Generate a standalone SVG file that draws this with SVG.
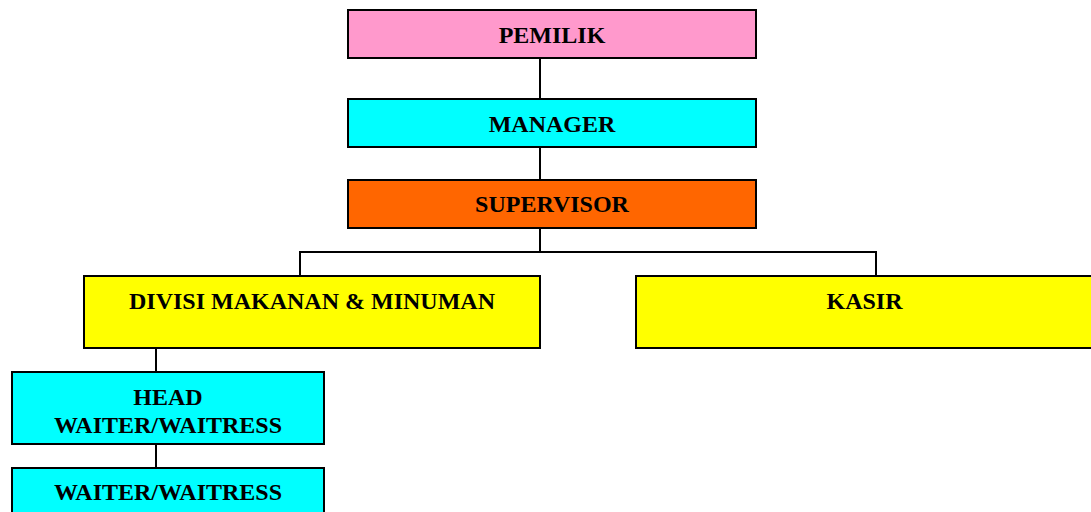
<svg xmlns="http://www.w3.org/2000/svg" width="1091" height="512" viewBox="0 0 1091 512">
<style>
.box{stroke:#000;stroke-width:2}
.t{font-family:"Liberation Serif","Times New Roman",serif;font-weight:bold;font-size:24px;fill:#000;text-anchor:middle}
.c{stroke:#000;stroke-width:2;fill:none}
</style>
<rect width="1091" height="512" fill="#fff"/>
<g id="connectors">
<line class="c" x1="540" y1="58" x2="540" y2="99"/>
<line class="c" x1="540" y1="147" x2="540" y2="180"/>
<polyline class="c" points="540,228 540,252"/>
<polyline class="c" points="300,276 300,252 876,252 876,276"/>
<line class="c" x1="156" y1="348" x2="156" y2="372"/>
<line class="c" x1="156" y1="444" x2="156" y2="468"/>
</g>
<g id="pemilik"><rect class="box" x="348" y="10" width="408" height="48" fill="#FF99CC"/><text class="t" x="552" y="42.5">PEMILIK</text></g>
<g id="manager"><rect class="box" x="348" y="99" width="408" height="48" fill="#00FFFF"/><text class="t" x="552" y="132.3">MANAGER</text></g>
<g id="supervisor"><rect class="box" x="348" y="180" width="408" height="48" fill="#FF6600"/><text class="t" x="552" y="212.3">SUPERVISOR</text></g>
<g id="divisi"><rect class="box" x="84" y="276" width="456" height="72" fill="#FFFF00"/><text class="t" x="312" y="309">DIVISI MAKANAN &amp; MINUMAN</text></g>
<g id="kasir"><rect class="box" x="636" y="276" width="457" height="72" fill="#FFFF00"/><text class="t" x="864.5" y="309">KASIR</text></g>
<g id="head"><rect class="box" x="12" y="372" width="312" height="72" fill="#00FFFF"/><text class="t" x="168" y="405">HEAD</text><text class="t" x="168" y="432.7">WAITER/WAITRESS</text></g>
<g id="waiter"><rect class="box" x="12" y="468" width="312" height="60" fill="#00FFFF"/><text class="t" x="168" y="500">WAITER/WAITRESS</text></g>
</svg>
